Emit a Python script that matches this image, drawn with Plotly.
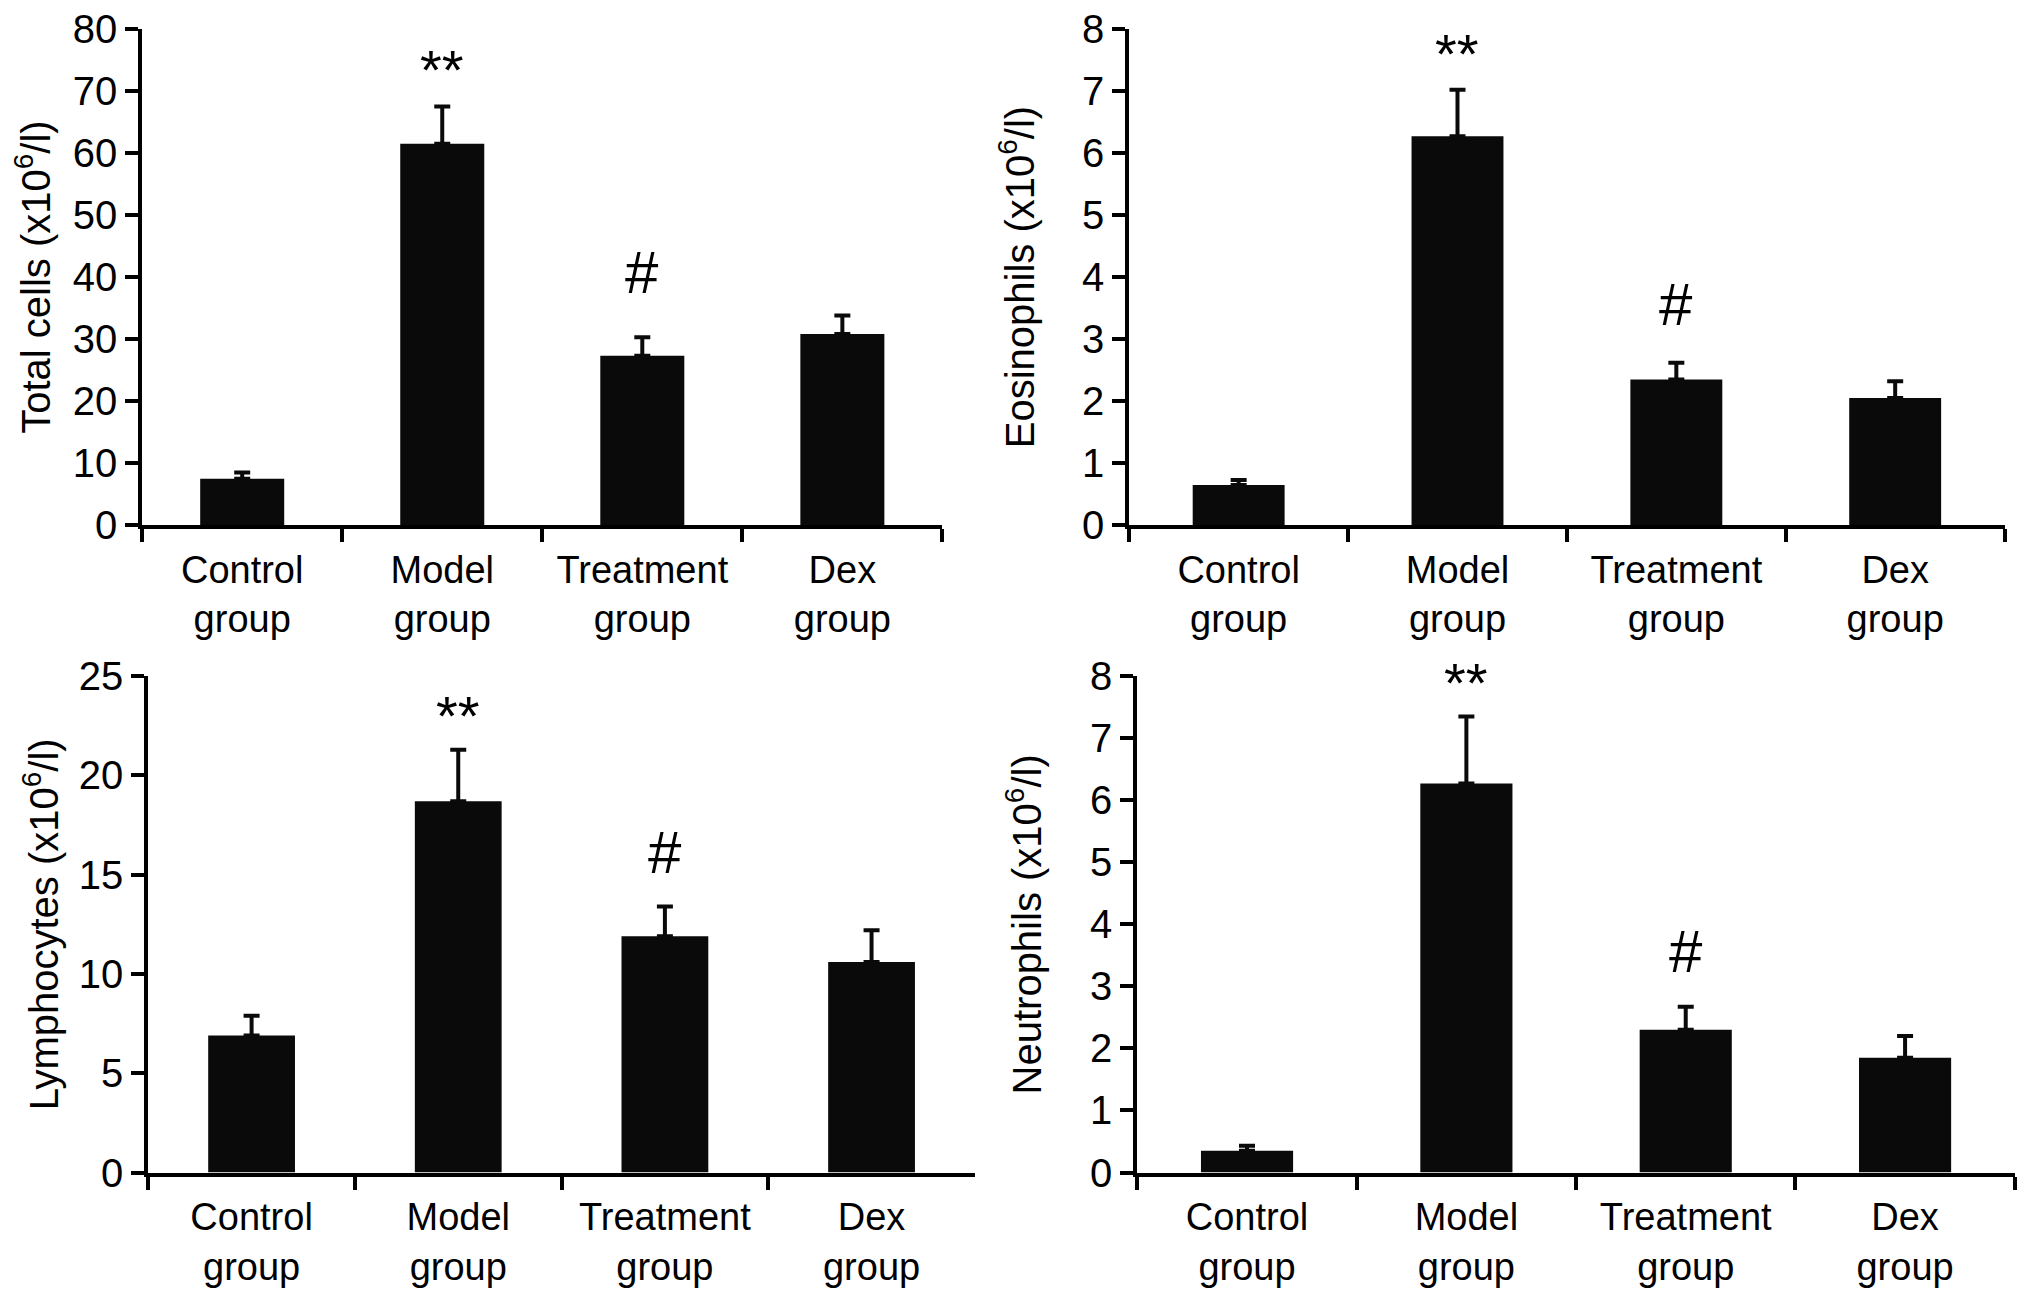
import plotly.graph_objects as go

groups = ["Control<br>group", "Model<br>group", "Treatment<br>group", "Dex<br>group"]

total_vals = [7.5, 61.5, 27.3, 30.8]
total_err = [1.0, 6.0, 3.0, 3.0]

eos_vals = [0.65, 6.27, 2.35, 2.05]
eos_err = [0.08, 0.75, 0.27, 0.27]

lym_vals = [6.9, 18.7, 11.9, 10.6]
lym_err = [1.0, 2.6, 1.5, 1.6]

neu_vals = [0.35, 6.27, 2.3, 1.85]
neu_err = [0.08, 1.08, 0.37, 0.35]

titles = ["Total cells (x10<sup>6</sup>/l)", "Eosinophils (x10<sup>6</sup>/l)",
          "Lymphocytes (x10<sup>6</sup>/l)", "Neutrophils (x10<sup>6</sup>/l)"]
yranges = [80, 8, 25, 8]
dticks = [10, 1, 5, 1]
star_y = [73.5, 7.6, 23.0, 7.9]
hash_y = [40.7, 3.55, 16.1, 3.56]

FONT = "Liberation Sans, Arial, sans-serif"

fig = go.Figure()
panels = [(total_vals, total_err), (eos_vals, eos_err), (lym_vals, lym_err), (neu_vals, neu_err)]
for i, (vals, errs) in enumerate(panels):
    sfx = "" if i == 0 else str(i + 1)
    fig.add_trace(go.Bar(
        x=groups, y=vals, xaxis="x" + sfx, yaxis="y" + sfx,
        marker=dict(color="#0a0a0a", line=dict(width=0)), width=0.42,
        error_y=dict(type="data", array=errs, arrayminus=[0] * len(errs), symmetric=False,
                     color="#0a0a0a", thickness=4, width=8),
        showlegend=False,
    ))
    fig.add_annotation(x=groups[1], y=star_y[i], xref="x" + sfx, yref="y" + sfx, text="**",
                       showarrow=False, font=dict(size=56, color="black", family=FONT), yanchor="middle")
    fig.add_annotation(x=groups[2], y=hash_y[i], xref="x" + sfx, yref="y" + sfx, text="#",
                       showarrow=False, font=dict(size=60, color="black", family=FONT), yanchor="middle")

xdomains = [[0.070, 0.464], [0.556, 0.987], [0.073, 0.480], [0.560, 0.992]]
ydomains = [[0.600, 0.978], [0.600, 0.978], [0.107, 0.485], [0.107, 0.485]]
standoffs = [11, 36, 9, 37]

layout = dict(
    width=2031, height=1313, margin=dict(l=0, r=0, t=0, b=0),
    paper_bgcolor="white", plot_bgcolor="white",
    font=dict(family=FONT, size=40, color="black"),
)
for i in range(4):
    sfx = "" if i == 0 else str(i + 1)
    layout["xaxis" + sfx] = dict(
        domain=xdomains[i], anchor="y" + sfx, type="category", tickson="boundaries",
        showline=True, linewidth=4, linecolor="black", ticks="outside", ticklen=13,
        tickwidth=4, tickcolor="black", showgrid=False, zeroline=False,
        tickfont=dict(size=38), ticklabelstandoff=8, automargin=False,
    )
    layout["yaxis" + sfx] = dict(
        domain=ydomains[i], anchor="x" + sfx, range=[0, yranges[i]], dtick=dticks[i],
        showline=True, linewidth=4, linecolor="black", ticks="outside", ticklen=13,
        tickwidth=4, tickcolor="black", showgrid=False, zeroline=False,
        tickfont=dict(size=40), automargin=False,
        title=dict(text=titles[i], font=dict(size=40), standoff=standoffs[i]),
    )
fig.update_layout(**layout)

fig.write_html("out.html", config={"displayModeBar": False},
               post_script="document.body.style.margin='0';")
